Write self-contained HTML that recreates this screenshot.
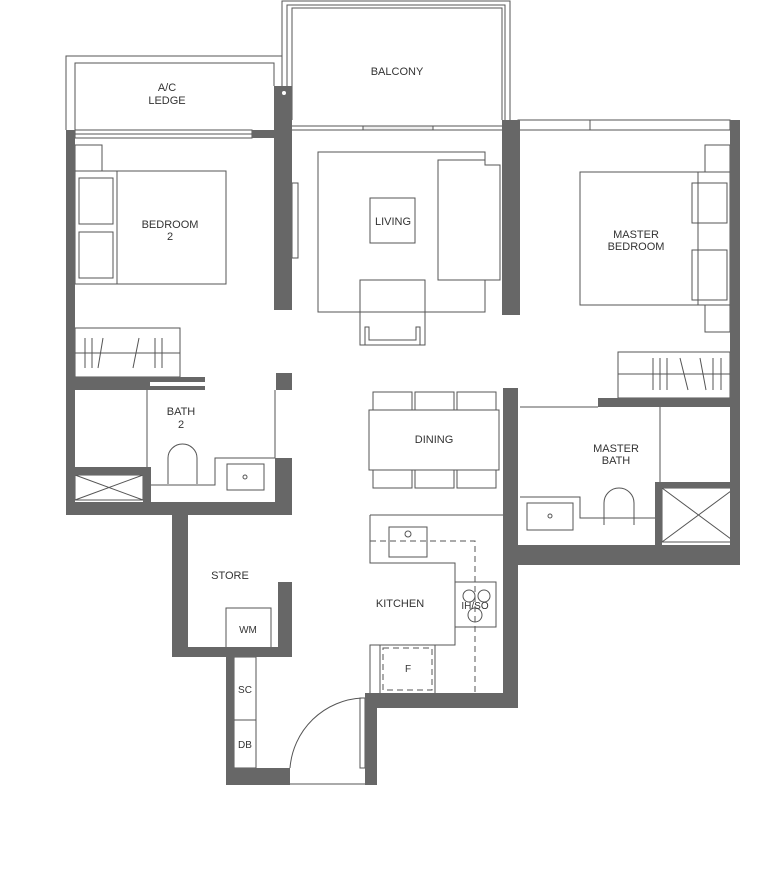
<!DOCTYPE html>
<html><head><meta charset="utf-8"><style>
html,body{margin:0;padding:0;background:#fff;}
svg{display:block;}
text{font-family:"Liberation Sans",sans-serif;font-size:11px;fill:#333;text-anchor:middle;}
</style></head><body>
<svg width="784" height="892" viewBox="0 0 784 892" xmlns="http://www.w3.org/2000/svg">
<g fill="none" stroke="#555" stroke-width="1">
<!-- balcony -->
<path d="M282 130 V1 H510 V120"/>
<path d="M287 130 V5 H505 V120"/>
<path d="M292 120 V8 H502 V120"/>
<line x1="292" y1="130" x2="502" y2="130"/>
<line x1="292" y1="126" x2="502" y2="126"/>
<rect x="363" y="126" width="70" height="4" fill="#eee"/>
<!-- a/c ledge -->
<path d="M66 130 V56 H282"/>
<path d="M75 130 V63 H274 V86"/>
<!-- bedroom2 window -->
<rect x="75" y="130" width="177" height="8"/>
<line x1="75" y1="134" x2="252" y2="134"/>
<!-- bedroom2 furniture -->
<rect x="75" y="145" width="27" height="26"/>
<rect x="117" y="171" width="109" height="113"/>
<rect x="75" y="171" width="42" height="113"/>
<rect x="79" y="178" width="34" height="46"/>
<rect x="79" y="232" width="34" height="46"/>
<rect x="75" y="328" width="105" height="49"/>
<line x1="75" y1="353" x2="180" y2="353"/>
<path d="M85 338 V368 M92 338 V368 M103 338 L98 368 M139 338 L133 368 M155 338 V368 M162 338 V368"/>
<!-- tv -->
<rect x="292" y="183" width="6" height="75"/>
<!-- living -->
<path d="M318 152 H485 V165 H500 V280 H485 V312 H318 Z"/>
<path d="M438 160 H485 V165 H500 V280 H438 Z"/>
<rect x="370" y="198" width="45" height="45"/>
<path d="M360 280 H425 V345 H360 Z"/>
<path d="M365 345 V327 H369 V340 H416 V327 H420 V345"/>
<!-- dining -->
<rect x="373" y="392" width="39" height="18"/><rect x="415" y="392" width="39" height="18"/><rect x="457" y="392" width="39" height="18"/>
<rect x="373" y="470" width="39" height="18"/><rect x="415" y="470" width="39" height="18"/><rect x="457" y="470" width="39" height="18"/>
<rect x="369" y="410" width="130" height="60" fill="#fff"/>
<!-- bath2 -->
<path d="M147 390 V485 H215 V458 H275"/>
<rect x="227" y="464" width="37" height="26"/>
<circle cx="245" cy="477" r="2"/>
<path d="M168 484 V458 A14.5 14 0 0 1 197 458 V484"/>
<line x1="275" y1="390" x2="275" y2="458"/>
<rect x="75" y="475" width="68" height="25"/>
<path d="M75 475 L143 500 M143 475 L75 500"/>
<!-- store -->
<rect x="226" y="608" width="45" height="40"/>
<rect x="234" y="657" width="22" height="111"/>
<line x1="234" y1="720" x2="256" y2="720"/>
<!-- entry door -->
<path d="M290 768 A76 76 0 0 1 362 698"/>
<rect x="360" y="698" width="5" height="70"/>
<line x1="290" y1="784" x2="365" y2="784"/>
<!-- kitchen -->
<path d="M370 515 H503 M370 515 V563 H455 V645 H370 V693"/>
<rect x="389" y="527" width="38" height="30"/>
<circle cx="408" cy="534" r="3"/>
<rect x="455" y="582" width="41" height="45"/>
<circle cx="469" cy="596" r="6"/><circle cx="484" cy="596" r="6"/><circle cx="475" cy="615" r="7"/>
<path d="M370 541 H475 V693" stroke-dasharray="6 4"/>
<rect x="383" y="648" width="49" height="42" stroke-dasharray="6 4"/>
<line x1="380" y1="645" x2="380" y2="693"/><line x1="435" y1="645" x2="435" y2="693"/>
<!-- master bedroom -->
<rect x="518" y="120" width="212" height="10"/>
<line x1="590" y1="120" x2="590" y2="130"/>
<rect x="705" y="145" width="25" height="27"/>
<rect x="580" y="172" width="118" height="133"/>
<rect x="698" y="172" width="32" height="133"/>
<rect x="692" y="183" width="35" height="40"/>
<rect x="692" y="250" width="35" height="50"/>
<rect x="705" y="305" width="25" height="27"/>
<rect x="618" y="352" width="112" height="46"/>
<line x1="618" y1="374" x2="730" y2="374"/>
<path d="M653 358 V390 M660 358 V390 M667 358 V390 M680 358 L688 390 M700 358 L706 390 M713 358 V390 M721 358 V390"/>
<!-- master bath -->
<line x1="520" y1="407" x2="598" y2="407"/>
<line x1="660" y1="407" x2="660" y2="482"/>
<path d="M520 497 H580 V518 H655"/>
<rect x="527" y="503" width="46" height="27"/>
<circle cx="550" cy="516" r="2"/>
<path d="M604 525 V503 A15 15 0 0 1 634 503 V525"/>
<rect x="662" y="488" width="73" height="54"/>
<path d="M662 488 L735 542 M735 488 L662 542"/>
</g>
<g fill="#676767">
<rect x="274" y="86" width="18" height="224"/>
<rect x="252" y="130" width="22" height="8"/>
<rect x="66" y="130" width="9" height="385"/>
<rect x="66" y="377" width="84" height="13"/>
<rect x="128" y="377" width="77" height="5"/>
<rect x="150" y="386" width="55" height="4"/>
<rect x="276" y="373" width="16" height="17"/>
<rect x="66" y="502" width="226" height="13"/>
<rect x="75" y="467" width="76" height="8"/>
<rect x="143" y="467" width="8" height="35"/>
<rect x="275" y="458" width="17" height="57"/>
<rect x="172" y="515" width="16" height="142"/>
<rect x="172" y="647" width="120" height="10"/>
<rect x="278" y="582" width="14" height="75"/>
<rect x="226" y="657" width="8" height="128"/>
<rect x="226" y="768" width="64" height="17"/>
<rect x="365" y="693" width="12" height="92"/>
<rect x="365" y="693" width="153" height="15"/>
<rect x="503" y="388" width="15" height="320"/>
<rect x="503" y="545" width="237" height="20"/>
<rect x="730" y="120" width="10" height="445"/>
<rect x="598" y="398" width="142" height="9"/>
<rect x="655" y="482" width="85" height="6"/>
<rect x="655" y="482" width="7" height="63"/>
<rect x="735" y="482" width="5" height="63"/>
<rect x="502" y="120" width="18" height="195"/>
</g>
<circle cx="284" cy="93" r="2" fill="#fff"/>
<text x="167" y="91">A/C</text><text x="167" y="104">LEDGE</text>
<text x="397" y="75">BALCONY</text>
<text x="170" y="228">BEDROOM</text><text x="170" y="240">2</text>
<text x="393" y="225">LIVING</text>
<text x="636" y="238">MASTER</text><text x="636" y="250">BEDROOM</text>
<text x="181" y="415">BATH</text><text x="181" y="428">2</text>
<text x="434" y="443">DINING</text>
<text x="616" y="452">MASTER</text><text x="616" y="464">BATH</text>
<text x="230" y="579">STORE</text>
<text x="400" y="607">KITCHEN</text>
<text x="475" y="609" style="font-size:10px">IH/SO</text>
<text x="248" y="633" style="font-size:10px">WM</text>
<text x="408" y="672" style="font-size:10px">F</text>
<text x="245" y="693" style="font-size:10px">SC</text>
<text x="245" y="748" style="font-size:10px">DB</text>
</svg>
</body></html>
